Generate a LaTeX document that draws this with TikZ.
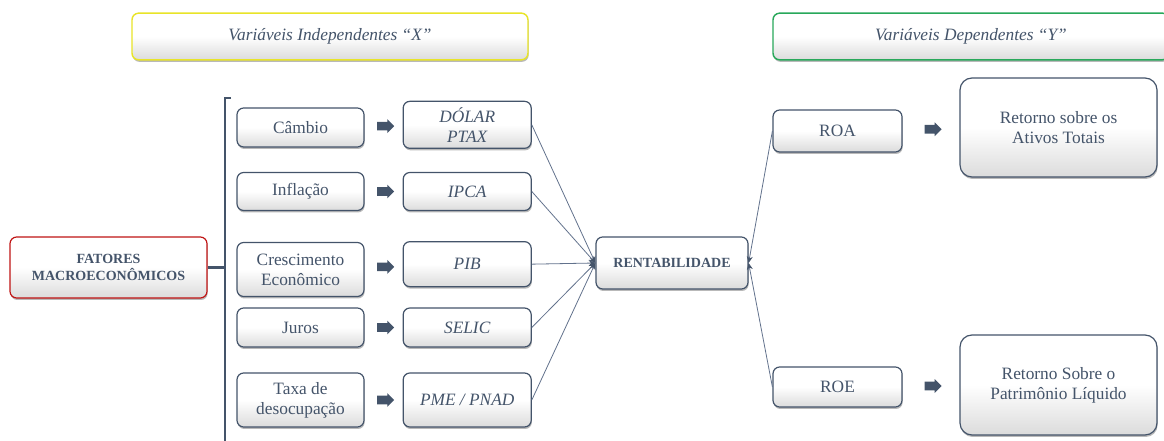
\documentclass[tikz,border=0pt]{standalone}
\usepackage{fontspec}
\setmainfont{Liberation Serif}
\usetikzlibrary{arrows.meta,positioning,calc,shapes.arrows,shadows}
\definecolor{slate}{RGB}{68,84,106}
\definecolor{wire}{RGB}{98,114,140}
\definecolor{softred}{RGB}{192,20,20}
\definecolor{softyellow}{RGB}{232,228,40}
\definecolor{softgreen}{RGB}{40,168,90}

\begin{document}
\begin{tikzpicture}[x=0.75pt,y=-0.75pt,
  box/.style={draw=slate,line width=0.9pt,rounded corners=5pt,top color=white,bottom color=black!14,middle color=white,text=slate,align=center,inner sep=1pt,
    font=\fontsize{13}{15}\selectfont,drop shadow={shadow xshift=0.5pt,shadow yshift=-1.5pt,fill=black!55,opacity=.5}},
  ind/.style={box,font=\fontsize{13}{15}\selectfont\itshape,minimum width=96pt},
  fac/.style={box,minimum width=95.25pt},
  hdr/.style={box,line width=1.1pt,minimum width=297pt,minimum height=35pt,font=\fontsize{13}{15}\selectfont\itshape},
  blockarr/.style={single arrow,fill=slate,draw=none,inner sep=3pt,minimum height=12.75pt,single arrow head extend=2pt},
  conn/.style={wire,line width=0.6pt,-{Stealth[length=5pt,width=4.5pt,slate]}}]
\useasboundingbox (0,0) rectangle (1164,441);
\node[hdr,draw=softyellow] (xhdr) at (330,36.5) {Variáveis Independentes “X”};
\node[hdr,draw=softgreen] (yhdr) at (971,36.5) {Variáveis Dependentes “Y”};
\node[box,draw=softred,minimum width=147.75pt,minimum height=45.75pt,font=\fontsize{10.5}{13}\selectfont\bfseries] (fat) at (108.5,267.5) {FATORES\\MACROECONÔMICOS};
\coordinate (brtop) at (231,98); \coordinate (brcorner) at (225,98); \coordinate (brbot) at (225,445); \coordinate (brmid) at (225,267.5);
\draw[slate,line width=1.9pt] (brtop) -- (brcorner) -- (brbot);
\draw[slate,line width=1.6pt] (fat.east) -- (brmid);
\node[fac,minimum height=29.25pt] (cam) at (300.5,127.5) {Câmbio};
\node[fac,minimum height=28.5pt] (inf) at (300.5,191.5) {Inflação};
\node[fac,minimum height=40.5pt] (cre) at (300.5,269.5) {Crescimento\\Econômico};
\node[fac,minimum height=29.25pt] (jur) at (300.5,327.5) {Juros};
\node[fac,minimum height=40.5pt] (tax) at (300.5,400) {Taxa de\\desocupação};
\node[ind,minimum height=35.25pt,right=28.5pt of cam.east,anchor=west,yshift=2pt] (dol) {DÓLAR\\PTAX};
\node[ind,minimum height=28.5pt,right=28.5pt of inf.east,anchor=west] (ipc) {IPCA};
\node[ind,minimum height=33.75pt,right=28.5pt of cre.east,anchor=west,yshift=4pt] (pib) {PIB};
\node[ind,minimum height=29.25pt,right=28.5pt of jur.east,anchor=west] (sel) {SELIC};
\node[ind,minimum height=40.5pt,right=28.5pt of tax.east,anchor=west] (pme) {PME / PNAD};
\node[blockarr] (a1) at ($(cam.east)!.5!(dol.west)$) {}; \node[blockarr] (a2) at ($(inf.east)!.5!(ipc.west)$) {};
\node[blockarr] (a3) at ($(cre.east)!.5!(pib.west)$) {}; \node[blockarr] (a4) at ($(jur.east)!.5!(sel.west)$) {};
\node[blockarr] (a5) at ($(tax.east)!.5!(pme.west)$) {};
\node[box,minimum width=114pt,minimum height=39pt,font=\fontsize{10.5}{13}\selectfont\bfseries] (rent) at (672,263) {RENTABILIDADE};
\draw[conn] (dol.east) -- (rent.west); \draw[conn] (ipc.east) -- (rent.west); \draw[conn] (pib.east) -- (rent.west);
\draw[conn] (sel.east) -- (rent.west); \draw[conn] (pme.east) -- (rent.west);
\node[box,minimum width=96.75pt,minimum height=31.5pt] (roa) at (837.5,131) {ROA};
\node[box,minimum width=96.75pt,minimum height=30pt] (roe) at (837.5,387) {ROE};
\node[box,rounded corners=9pt,minimum width=147.75pt,minimum height=74.25pt] (ret1) at (1058.5,127.5) {Retorno sobre os\\Ativos Totais};
\node[box,rounded corners=9pt,minimum width=147.75pt,minimum height=75pt] (ret2) at (1058.5,385) {Retorno Sobre o\\Patrimônio Líquido};
\node[blockarr] (b1) at ($(roa.east)!.5!(ret1.west)$) {}; \node[blockarr] (b2) at ($(roe.east)!.5!(ret2.west)$) {};
\draw[conn] (roa.west) -- (rent.east); \draw[conn] (roe.west) -- (rent.east);
\end{tikzpicture}
\end{document}
